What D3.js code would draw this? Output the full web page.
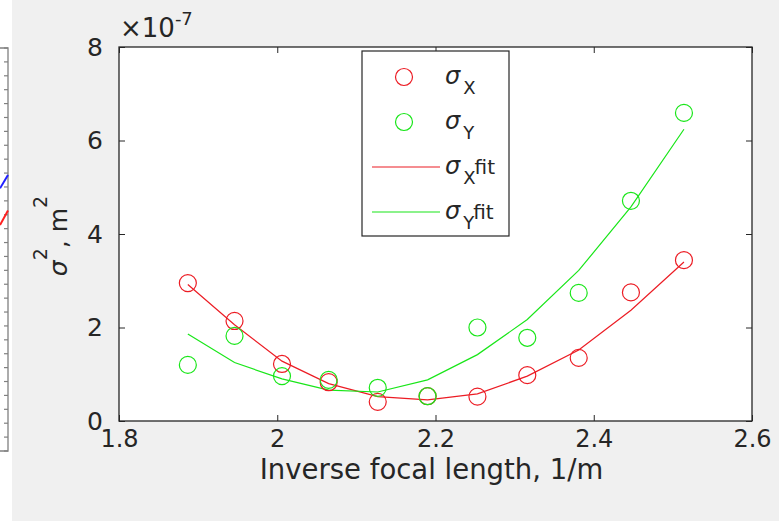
<!DOCTYPE html>
<html>
<head>
<meta charset="utf-8">
<script src="https://cdn.jsdelivr.net/npm/d3@7"></script>
<style>
  body { margin: 0; background: #f0f0f0; }
  svg { display: block; }
  text { font-family: "DejaVu Sans", "Liberation Sans", sans-serif; fill: #262626; }
</style>
</head>
<body>
<div id="chart"></div>
<script>
// inverse focal length, 1/m
const invFocal = [1.887, 1.946, 2.006, 2.065, 2.127, 2.190, 2.253, 2.316, 2.381, 2.447, 2.514];
// measured sigma^2 (units of 1e-7 m^2)
const sigmaX = [2.95, 2.14, 1.22, 0.83, 0.41, 0.53, 0.52, 0.98, 1.35, 2.75, 3.44];
const sigmaY = [1.20, 1.82, 0.96, 0.88, 0.71, 0.53, 2.00, 1.78, 2.74, 4.71, 6.59];
// fitted curves at the same points
const sigmaXfit = [2.92, 2.06, 1.28, 0.80, 0.52, 0.45, 0.58, 0.96, 1.52, 2.37, 3.40];
const sigmaYfit = [1.86, 1.25, 0.90, 0.66, 0.62, 0.88, 1.42, 2.17, 3.22, 4.58, 6.24];

const xTicks = [1.8, 2.0, 2.2, 2.4, 2.6];
const xTickLabels = ["1.8", "2", "2.2", "2.4", "2.6"];
const yTicks = [0, 2, 4, 6, 8];
const yTickLabels = ["0", "2", "4", "6", "8"];

// the edge of the neighbouring panel that is cut off on the left
const leftPanelTicks = d3.range(0, 30);
const leftBlue = [[0.9, 18.9], [1.0, 19.86]];
const leftRed = [[0.9, 16.26], [1.0, 17.3]];

const W = 779, H = 521;
const red = "#ec1c24", green = "#19e619";

const svg = d3.select("#chart").append("svg")
    .attr("width", W)
    .attr("height", H);

svg.append("rect").attr("width", W).attr("height", H).attr("fill", "#f0f0f0");

// ---- neighbouring panel sliver
const lx = d3.scaleLinear().domain([0, 1]).range([-72, 8]);
const ly = d3.scaleLinear().domain([0, 29]).range([451, 48]);
svg.append("rect").attr("x", 0).attr("y", 0).attr("width", 12).attr("height", H).attr("fill", "#ffffff");
const lg = svg.append("g");
lg.selectAll("line.lt")
    .data(leftPanelTicks)
    .enter().append("line")
    .attr("x1", lx(1) - 4).attr("x2", lx(1))
    .attr("y1", d => ly(d)).attr("y2", d => ly(d))
    .attr("stroke", "#808080").attr("stroke-width", 1.2);
lg.append("path")
    .attr("d", `M0,${ly(29)}H${lx(1)}V${ly(0)}H0`)
    .attr("fill", "none").attr("stroke", "#808080").attr("stroke-width", 1.3);
const lline = d3.line().x(d => lx(d[0])).y(d => ly(d[1]));
lg.append("path").datum(leftBlue).attr("d", lline).attr("stroke", "#2020ff").attr("stroke-width", 2).attr("fill", "none");
lg.append("path").datum(leftRed).attr("d", lline).attr("stroke", "#ff2020").attr("stroke-width", 2).attr("fill", "none");

// ---- main axes
const margin = {top: 47, right: 27, bottom: 100, left: 119};
const x = d3.scaleLinear().domain([1.8, 2.6]).range([margin.left, W - margin.right]);
const y = d3.scaleLinear().domain([0, 8]).range([H - margin.bottom, margin.top]);

svg.append("rect")
    .attr("x", x(1.8)).attr("y", y(8))
    .attr("width", x(2.6) - x(1.8)).attr("height", y(0) - y(8))
    .attr("fill", "#ffffff");

const tickLen = 6;
// bottom + top (ticks pointing inward)
svg.append("g")
    .attr("transform", `translate(0,${y(0)})`)
    .call(d3.axisBottom(x).tickValues(xTicks).tickSizeInner(-tickLen).tickSizeOuter(0).tickPadding(9)
        .tickFormat((d, i) => xTickLabels[i]))
    .call(g => g.select(".domain").remove())
    .selectAll("text").style("font-size", "24px").attr("fill", "#262626");
svg.append("g")
    .attr("transform", `translate(0,${y(8)})`)
    .call(d3.axisTop(x).tickValues(xTicks).tickSizeInner(-tickLen).tickSizeOuter(0).tickFormat(""))
    .call(g => g.select(".domain").remove());
svg.append("g")
    .attr("transform", `translate(${x(1.8)},0)`)
    .call(d3.axisLeft(y).tickValues(yTicks).tickSizeInner(-tickLen).tickSizeOuter(0).tickPadding(16)
        .tickFormat((d, i) => yTickLabels[i]))
    .call(g => g.select(".domain").remove())
    .selectAll("text").style("font-size", "25px").attr("fill", "#262626");
svg.append("g")
    .attr("transform", `translate(${x(2.6)},0)`)
    .call(d3.axisRight(y).tickValues(yTicks).tickSizeInner(-tickLen).tickSizeOuter(0).tickFormat(""))
    .call(g => g.select(".domain").remove());
svg.selectAll(".tick line").attr("stroke", "#262626");

svg.append("rect")
    .attr("x", x(1.8)).attr("y", y(8))
    .attr("width", x(2.6) - x(1.8)).attr("height", y(0) - y(8))
    .attr("fill", "none").attr("stroke", "#262626").attr("stroke-width", 1.3);

// exponent label
const expo = svg.append("text").attr("x", x(1.8) + 1).attr("y", 37).style("font-size", "26px");
expo.append("tspan").text("×10");
expo.append("tspan").attr("dy", -12).style("font-size", "18px").text("-7");

// axis titles
svg.append("text")
    .attr("x", (x(1.8) + x(2.6)) / 2 - 4).attr("y", 479)
    .attr("text-anchor", "middle")
    .style("font-size", "27.5px")
    .text("Inverse focal length, 1/m");

const yl = svg.append("text")
    .attr("transform", `translate(67,236) rotate(-90)`)
    .attr("text-anchor", "middle")
    .style("font-size", "25px");
yl.append("tspan").style("font-style", "italic").text("σ");
yl.append("tspan").attr("dy", -20).style("font-size", "19px").text("2");
yl.append("tspan").attr("dy", 20).text(", m");
yl.append("tspan").attr("dy", -20).style("font-size", "19px").text("2");

// ---- data
const pts = invFocal.map((d, i) => ({x: d, sx: sigmaX[i], sy: sigmaY[i], fx: sigmaXfit[i], fy: sigmaYfit[i]}));

svg.append("path").datum(pts)
    .attr("fill", "none").attr("stroke", red).attr("stroke-width", 1.2)
    .attr("d", d3.line().x(d => x(d.x)).y(d => y(d.fx)));
svg.append("path").datum(pts)
    .attr("fill", "none").attr("stroke", green).attr("stroke-width", 1.2)
    .attr("d", d3.line().x(d => x(d.x)).y(d => y(d.fy)));

svg.selectAll("circle.sx").data(pts).enter().append("circle")
    .attr("cx", d => x(d.x)).attr("cy", d => y(d.sx)).attr("r", 8.5)
    .attr("fill", "none").attr("stroke", red).attr("stroke-width", 1.2);
svg.selectAll("circle.sy").data(pts).enter().append("circle")
    .attr("cx", d => x(d.x)).attr("cy", d => y(d.sy)).attr("r", 8.5)
    .attr("fill", "none").attr("stroke", green).attr("stroke-width", 1.2);

// ---- legend
const leg = svg.append("g").attr("transform", "translate(362,51)");
leg.append("rect").attr("width", 147).attr("height", 185)
    .attr("fill", "#ffffff").attr("stroke", "#262626").attr("stroke-width", 1.2);

const entries = [
    {kind: "marker", color: red, sub: "X", sup: ""},
    {kind: "marker", color: green, sub: "Y", sup: ""},
    {kind: "line", color: red, sub: "X", sup: "fit"},
    {kind: "line", color: green, sub: "Y", sup: "fit"}
];
entries.forEach((e, i) => {
    const cy = 26 + i * 45;
    if (e.kind === "marker") {
        leg.append("circle").attr("cx", 42).attr("cy", cy).attr("r", 8.5)
            .attr("fill", "none").attr("stroke", e.color).attr("stroke-width", 1.2);
    } else {
        leg.append("line").attr("x1", 10).attr("x2", 78).attr("y1", cy).attr("y2", cy)
            .attr("stroke", e.color).attr("stroke-width", 1.2);
    }
    const t = leg.append("text").attr("x", 83).attr("y", cy + 7).style("font-size", "24px");
    t.append("tspan").style("font-style", "italic").text("σ");
    t.append("tspan").attr("dx", 3).attr("dy", 10).style("font-size", "18px").text(e.sub);
    if (e.sup) t.append("tspan").attr("dx", -1).attr("dy", -10).style("font-size", "20px").text(e.sup);
});
</script>
</body>
</html>
